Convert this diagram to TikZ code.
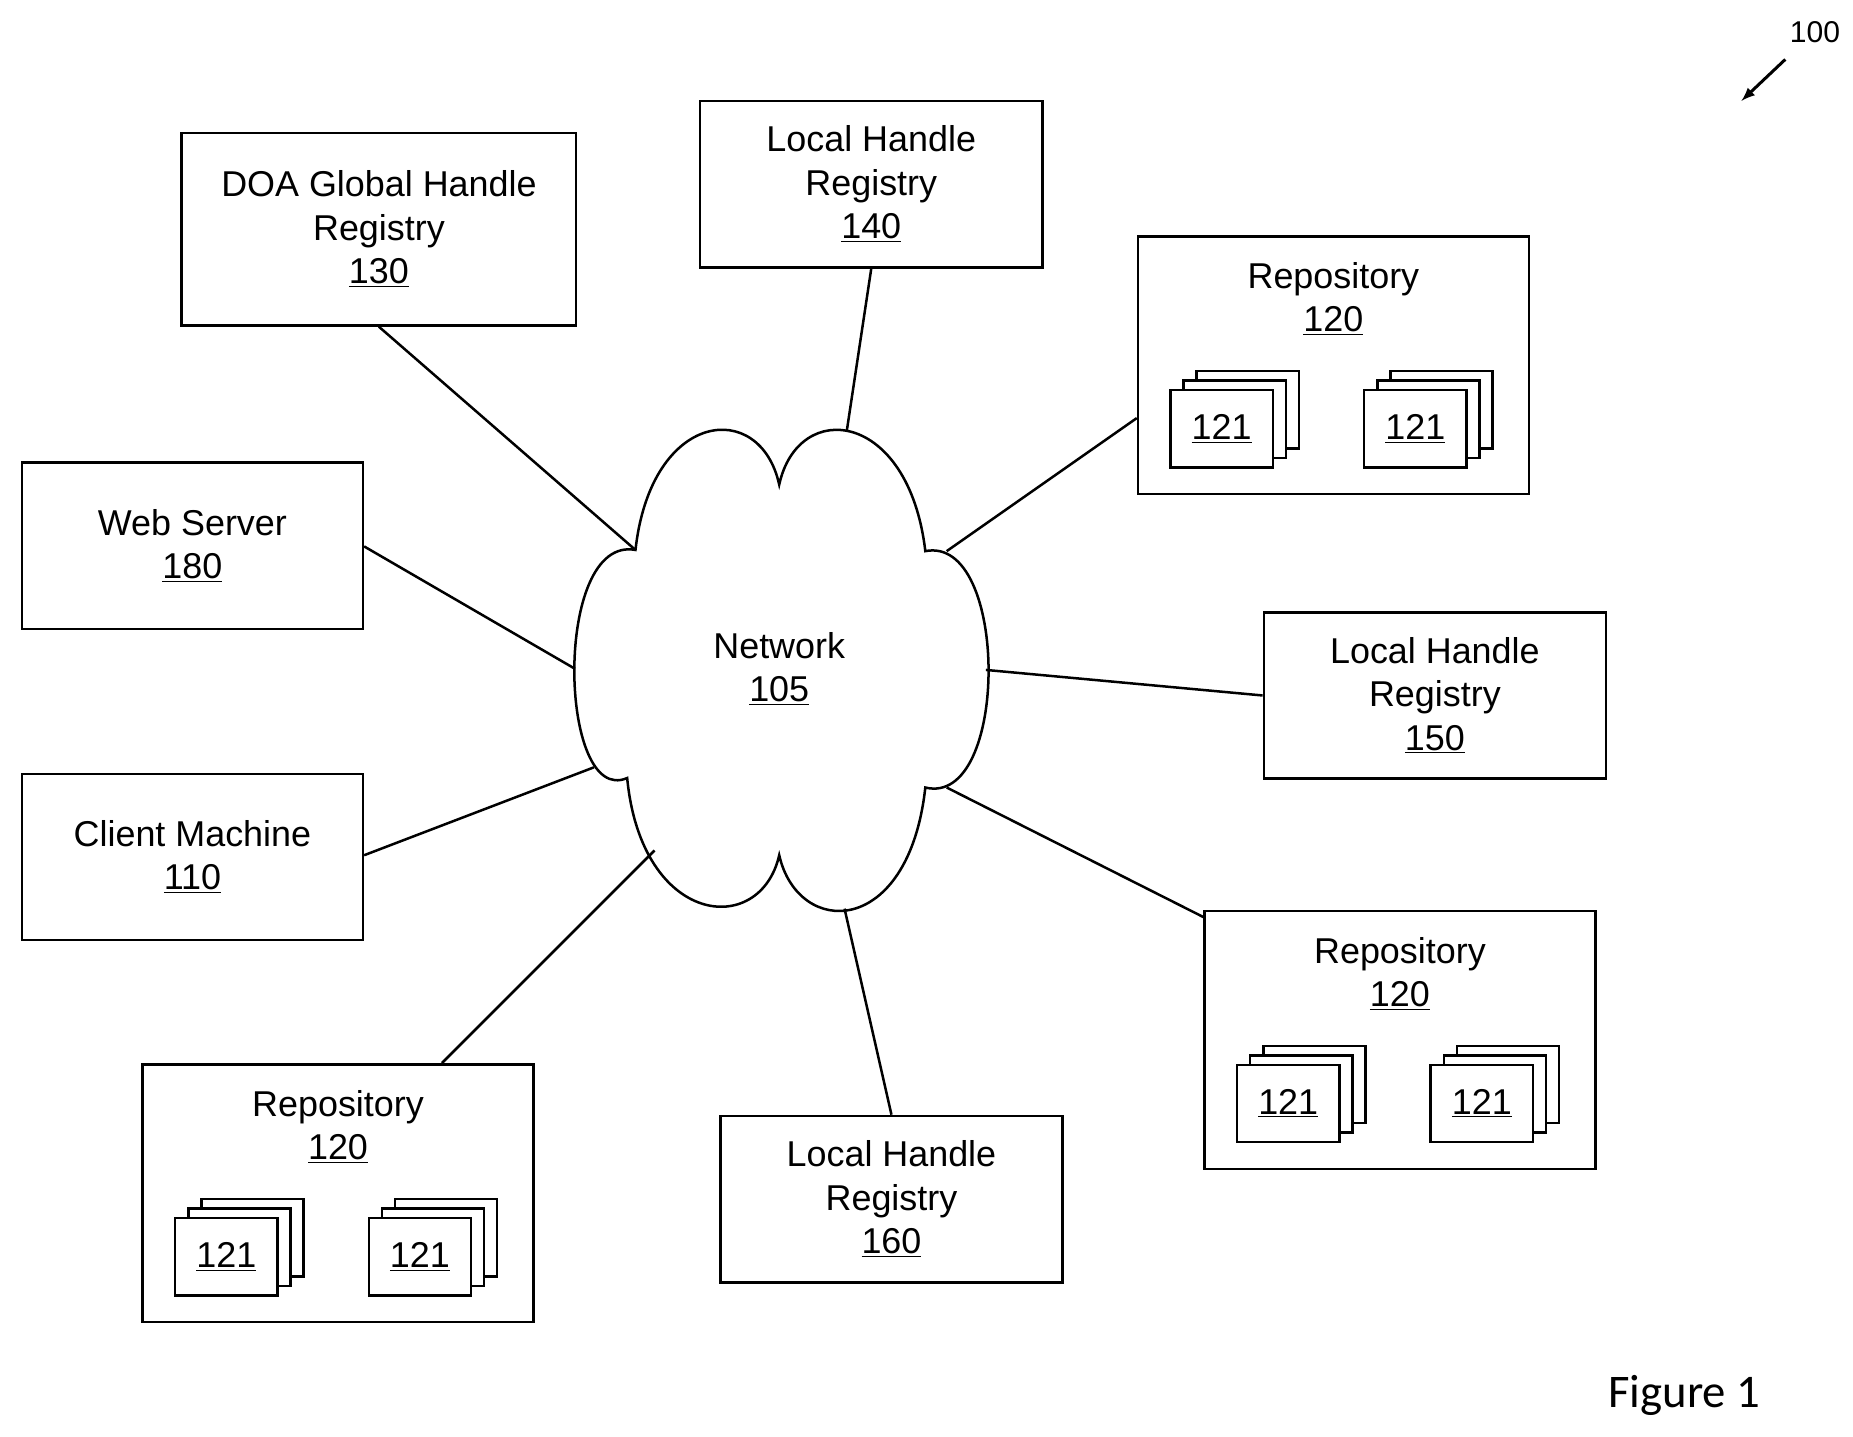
\documentclass[tikz,border=0pt]{standalone}
\usepackage{fontspec}
\setmainfont{Liberation Sans}
\newfontfamily\figfont{Carlito}
\usetikzlibrary{positioning, calc}

\begin{document}
\begin{tikzpicture}[x=0.25mm, y=-0.25mm]
    % Styles
    \tikzset{
        box/.style={rectangle, draw, line width=1.5pt, align=center, font=\fontsize{21.5}{26}\selectfont, inner sep=0pt},
        doc/.style={rectangle, draw, fill=white, line width=1.5pt, minimum width=21.5mm, minimum height=16.25mm, font=\fontsize{21.5}{26}\selectfont, inner sep=0pt},
        link/.style={line width=1.5pt}
    }
    \useasboundingbox (0,0) rectangle (1560,1209);

    % --- Boxes ---
    \node[box, minimum width=83mm, minimum height=40.5mm] (doa) at (319,193) {DOA Global Handle\\Registry\\\underline{130}};
    \node[box, minimum width=72mm, minimum height=35mm] (lhr140) at (733.5,155) {Local Handle\\Registry\\\underline{140}};
    \node[box, minimum width=71.75mm, minimum height=35mm] (web) at (162,459.5) {Web Server\\\underline{180}};
    \node[box, minimum width=72mm, minimum height=35mm] (lhr150) at (1208,585.5) {Local Handle\\Registry\\\underline{150}};
    \node[box, minimum width=71.75mm, minimum height=35mm] (client) at (162,721.5) {Client Machine\\\underline{110}};
    \node[box, minimum width=72mm, minimum height=35mm] (lhr160) at (750.5,1009.5) {Local Handle\\Registry\\\underline{160}};

    % Repositories
    \foreach \nm/\x/\y in {repoA/957/198, repoB/1013/766, repoC/119/895}{
        \node[box, minimum width=82.25mm, minimum height=54.25mm, anchor=north west] (\nm) at (\x,\y) {};
        \node[font=\fontsize{21.5}{26}\selectfont, align=center, anchor=north] at ($(\nm.north)+(0,18)$) {Repository\\\underline{120}};
        \foreach \dx in {0,163}{
            \node[doc] at (\x+28+\dx+43.5+22,\y+130+33-16) {};
            \node[doc] at (\x+28+\dx+43.5+11,\y+130+33-8) {};
            \node[doc] at (\x+28+\dx+43.5,\y+130+33) {\underline{121}};
        }
    }

    % --- Network cloud ---
    \draw[line width=1.5pt, fill=white] (535,463)
        .. controls (548,345) and (640,335) .. (656,408)
        .. controls (672,335) and (765,345) .. (779,464)
        .. controls (850,450) and (850,680) .. (779,663)
        .. controls (765,790) and (672,790) .. (656,720)
        .. controls (640,790) and (540,780) .. (528,655)
        .. controls (470,680) and (465,450) .. (535,463) -- cycle;
    \node[font=\fontsize{21.5}{26}\selectfont, align=center] (net) at (656,563) {Network\\\underline{105}};

    % --- Connections ---
    \draw[link] (doa.south) -- (535,463);
    \draw[link] (lhr140.south) -- (713,362);
    \draw[link] (repoA.west |- 0,352) -- (797,464);
    \draw[link] (web.east |- 0,460) -- (484,563);
    \draw[link] (lhr150.west) -- (830,564);
    \draw[link] (client.east |- 0,720) -- (500,646);
    \draw[link] (372,895) -- (551,716);
    \draw[link] (lhr160.north) -- (711,765);
    \draw[link] (repoB.west |- 0,772) -- (797,663);

    % Reference label
    \node[font=\fontsize{18}{20}\selectfont] (ref) at (1528,27) {100};
    \draw[-latex, line width=1.8pt] (1503,50) -- (1466,85);
    \node[font=\figfont\fontsize{28}{32}\selectfont] (fig) at (1418,1175) {Figure 1};
\end{tikzpicture}
\end{document}
